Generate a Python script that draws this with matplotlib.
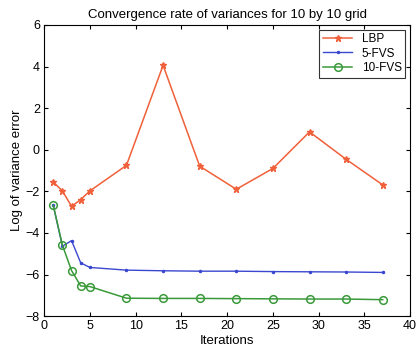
import matplotlib
matplotlib.use("Agg")
import matplotlib.pyplot as plt

plt.rcParams['font.family'] = ['Liberation Sans', 'DejaVu Sans']

iters = [1, 2, 3, 4, 5, 9, 13, 17, 21, 25, 29, 33, 37]
lbp = [-1.55, -1.98, -2.72, -2.40, -1.98, -0.75, 4.06, -0.79, -1.90, -0.90, 0.86, -0.46, -1.69]
fvs5 = [-2.67, -4.64, -4.37, -5.44, -5.66, -5.79, -5.82, -5.84, -5.84, -5.86, -5.87, -5.88, -5.90]
fvs10 = [-2.67, -4.59, -5.81, -6.55, -6.58, -7.14, -7.15, -7.15, -7.16, -7.17, -7.18, -7.18, -7.21]

xticks = [0, 5, 10, 15, 20, 25, 30, 35, 40]
yticks = [-8, -6, -4, -2, 0, 2, 4, 6]

fig = plt.figure(figsize=(4.16, 3.52), dpi=100)
ax = fig.add_axes([0.106, 0.102, 0.88, 0.827])

ax.plot(iters, lbp, color='#f0603a', marker='*', markersize=5, lw=1.1, label='LBP')
ax.plot(iters, fvs5, color='#3a48d0', marker='.', markersize=3, lw=1.0, label='5-FVS')
ax.plot(iters, fvs10, color='#3a9a3a', marker='o', markersize=5.5, mfc='none', mew=1.1,
        lw=1.1, label='10-FVS')

ax.set_xlim(0, 40)
ax.set_ylim(-8, 6)
ax.set_xticks(xticks)
ax.set_yticks(yticks)
ax.tick_params(direction='in', top=True, right=True, labelsize=9, length=3, pad=3)
for s in ax.spines.values():
    s.set_linewidth(0.8)

ax.set_title('Convergence rate of variances for 10 by 10 grid', fontsize=9.5, pad=5)
ax.set_xlabel('Iterations', fontsize=9.5, labelpad=2)
ax.set_ylabel('Log of variance error', fontsize=9.5, labelpad=2)

leg = ax.legend(loc='upper right', fontsize=8.5, frameon=True, fancybox=False,
                edgecolor='black', borderaxespad=0.4, handlelength=2.5,
                labelspacing=0.2, borderpad=0.3)
leg.get_frame().set_linewidth(0.8)

fig.savefig('out.png', dpi=100)
